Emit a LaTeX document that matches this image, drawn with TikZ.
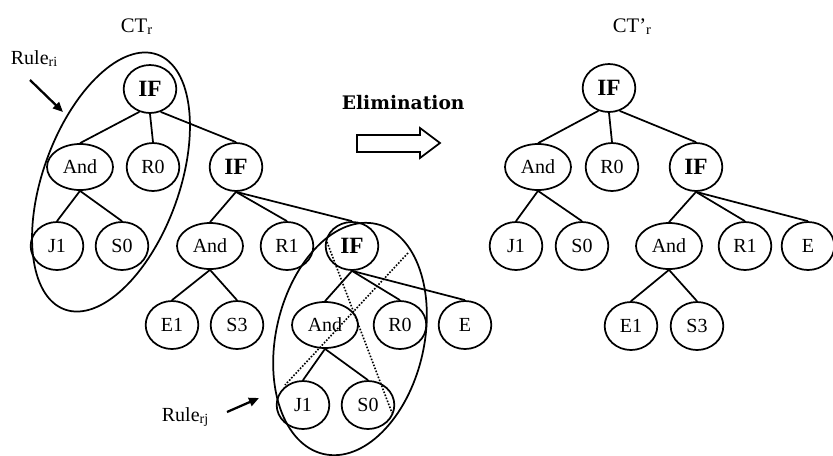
\documentclass[tikz,border=0pt]{standalone}
\usepackage{fontspec}
\setmainfont{Liberation Serif}
\newfontfamily\elimfont{DejaVu Serif}
\usetikzlibrary{shapes.geometric,arrows.meta}

\tikzset{every picture/.style={line width=1.3pt}}
\tikzset{
  leafnode/.style={draw, ellipse, inner sep=0pt, minimum width=39.5pt, minimum height=36pt, font=\fontsize{15}{17}\selectfont},
  andnode/.style={leafnode, minimum width=49.5pt, minimum height=34.5pt},
  ifnode/.style={leafnode, font=\fontsize{17.5}{19}\selectfont\bfseries},
  lbl/.style={inner sep=0pt, anchor=base west, font=\fontsize{15}{17}\selectfont},
  rulearrow/.style={line width=1.7pt, -{Triangle[length=7.5pt,width=6.5pt]}},
  cutline/.style={line width=1.2pt, dash pattern={on 1.2pt off 1.2pt}}
}

\begin{document}
\begin{tikzpicture}[x=0.75pt,y=0.75pt,yscale=-1,xscale=1]
\useasboundingbox (0,0) rectangle (833,455);

% tree CT_r
\node[ifnode] (IFa) at (150,89) {IF};
\node[andnode] (ANDa) at (80,167) {And};
\node[leafnode] (R0a) at (153,167) {R0};
\node[ifnode] (IFb) at (236,167) {IF};
\node[leafnode] (J1a) at (57,246) {J1};
\node[leafnode] (S0a) at (122,246) {S0};
\node[andnode] (ANDb) at (210,246) {And};
\node[leafnode] (R1a) at (287,246) {R1};
\node[ifnode] (IFc) at (352,246) {IF};
\node[leafnode] (E1a) at (172,325) {E1};
\node[leafnode] (S3a) at (237,325) {S3};
\node[andnode] (ANDc) at (325,325) {And};
\node[leafnode] (R0b) at (400,325) {R0};
\node[leafnode] (Ea) at (465,325) {E};
\node[leafnode] (J1b) at (303,405) {J1};
\node[leafnode] (S0b) at (368,405) {S0};

\draw (IFa.245) -- (ANDa.north);
\draw (IFa.south) -- (R0a.north);
\draw (IFa.295) -- (IFb.north);
\draw (ANDa.south) -- (J1a.north);
\draw (ANDa.south) -- (S0a.north);
\draw (IFb.south) -- (ANDb.north);
\draw (IFb.south) -- (R1a.north);
\draw (IFb.south) -- (IFc.north);
\draw (ANDb.south) -- (E1a.north);
\draw (ANDb.south) -- (S3a.north);
\draw (IFc.south) -- (ANDc.north);
\draw (IFc.south) -- (R0b.north);
\draw (IFc.south) -- (Ea.north);
\draw (ANDc.south) -- (J1b.north);
\draw (ANDc.south) -- (S0b.north);

% tree CT'_r
\node[ifnode] (IFr) at (609,88) {IF};
\node[andnode] (ANDr) at (538,167) {And};
\node[leafnode] (R0r) at (612,167) {R0};
\node[ifnode] (IFs) at (696,167) {IF};
\node[leafnode] (J1r) at (516,246) {J1};
\node[leafnode] (S0r) at (582,246) {S0};
\node[andnode] (ANDs) at (669,246) {And};
\node[leafnode] (R1r) at (745,246) {R1};
\node[leafnode] (Er) at (808,246) {E};
\node[leafnode] (E1r) at (631,326) {E1};
\node[leafnode] (S3r) at (697,326) {S3};

\draw (IFr.245) -- (ANDr.north);
\draw (IFr.south) -- (R0r.north);
\draw (IFr.295) -- (IFs.north);
\draw (ANDr.south) -- (J1r.north);
\draw (ANDr.south) -- (S0r.north);
\draw (IFs.south) -- (ANDs.north);
\draw (IFs.south) -- (R1r.north);
\draw (IFs.south) -- (Er.north);
\draw (ANDs.south) -- (E1r.north);
\draw (ANDs.south) -- (S3r.north);

% rule regions
\draw[rotate around={-70:(111,182)}] (111,182) ellipse [x radius=135.6, y radius=68];
\draw[rotate around={-77:(350,339)}] (350,339) ellipse [x radius=118, y radius=74];

% crossed out part
\coordinate (cutA) at (327,242);
\coordinate (cutB) at (392,413);
\coordinate (cutC) at (408,253);
\coordinate (cutD) at (285,385);
\draw[cutline] (cutA) -- (cutB);
\draw[cutline] (cutC) -- (cutD);

% labels
\node[lbl, font=\fontsize{15.5}{17}\selectfont] (ctr) at (120,32) {CT\textsubscript{r}};
\node[lbl, font=\fontsize{15.5}{17}\selectfont] (ctrp) at (612,32) {CT’\textsubscript{r}};
\node[lbl] (ruleri) at (10,64) {Rule\textsubscript{ri}};
\node[lbl] (rulerj) at (161,421) {Rule\textsubscript{rj}};

\coordinate (riTail) at (30,80);
\coordinate (riTip) at (63,112);
\draw[rulearrow] (riTail) -- (riTip);
\coordinate (rjTail) at (227,412);
\coordinate (rjTip) at (259,398);
\draw[rulearrow] (rjTail) -- (rjTip);

% elimination step
\node[inner sep=0pt, anchor=base west, font=\elimfont\bfseries\fontsize{14}{16}\selectfont] (elim) at (341,109) {Elimination};
\draw (357,135) -- (420,135) -- (420,128) -- (440,143) -- (420,158) -- (420,152) -- (357,152) -- cycle;

\end{tikzpicture}
\end{document}
